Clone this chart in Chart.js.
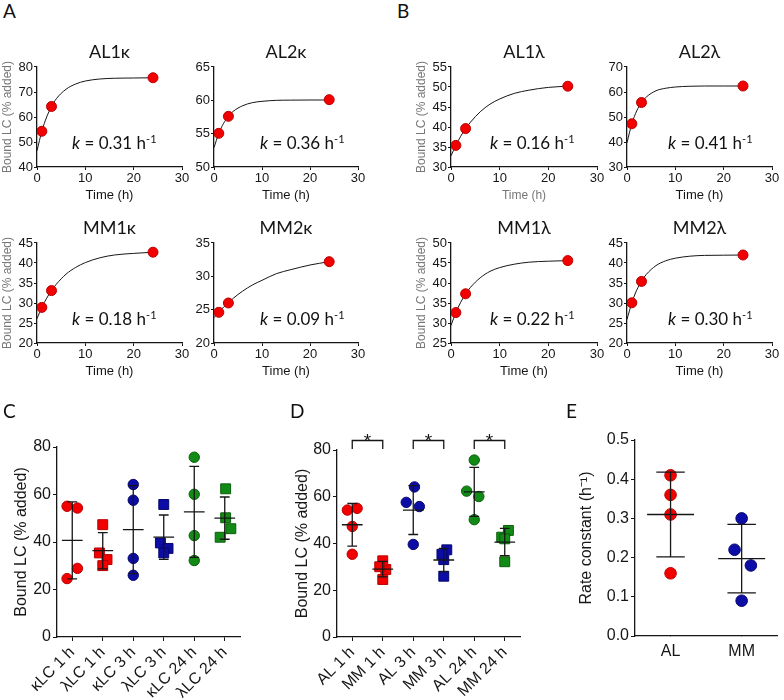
<!DOCTYPE html>
<html>
<head>
<meta charset="utf-8">
<script src="https://cdn.jsdelivr.net/npm/chart.js@4.4.1/dist/chart.umd.min.js"></script>
<style>
  body { margin: 0; background: #fff; }
  #fig { position: relative; width: 784px; height: 700px; overflow: hidden; }
  #fig canvas { position: absolute; }
  .lbl { position: absolute; font-family: Lato, 'Open Sans', sans-serif; color: #111; white-space: nowrap; }
  .letter { font-size: 19px; line-height: 19px; }
  .kval { font-size: 17px; line-height: 20px; }
  .kval sup { font-size: 11px; line-height: 0; vertical-align: 6px; }
</style>
</head>
<body>
<div id="fig"></div>
<script>
// sampling times (h) and fitted-curve read-off times
const sampleTimes = [1, 3, 24];
const fitTimes = [0, 1, 2, 3, 4, 6, 8, 10, 13, 16, 20, 24];

// bound LC (% added) at 1, 3, 24 h
const AL1k = [54.3, 64.2, 75.7];
const AL2k = [55.05, 57.6, 60.1];
const MM1k = [28.9, 33.1, 42.7];
const MM2k = [24.6, 26.0, 32.2];
const AL1l = [35.4, 39.6, 50.2];
const AL2l = [47.3, 55.8, 62.4];
const MM1l = [32.6, 37.3, 45.6];
const MM2l = [30.05, 35.4, 42.0];

// fitted curves at fitTimes
const AL1kFit = [46.5, 54.3, 60.0, 64.2, 67.3, 71.1, 73.2, 74.4, 75.2, 75.5, 75.6, 75.7];
const AL2kFit = [52.9, 55.05, 56.55, 57.6, 58.35, 59.2, 59.65, 59.85, 60.0, 60.03, 60.05, 60.05];
const MM1kFit = [26.1, 28.9, 31.2, 33.1, 34.7, 37.2, 38.9, 40.1, 41.3, 42.0, 42.4, 42.7];
const MM2kFit = [23.8, 24.6, 25.4, 26.0, 26.7, 27.8, 28.7, 29.4, 30.4, 31.0, 31.7, 32.2];
const AL1lFit = [32.8, 35.4, 37.7, 39.6, 41.2, 43.8, 45.7, 47.0, 48.4, 49.2, 49.9, 50.2];
const AL2lFit = [39.7, 47.3, 52.4, 55.8, 58.0, 60.5, 61.5, 62.0, 62.3, 62.4, 62.4, 62.4];
const MM1lFit = [29.4, 32.6, 35.2, 37.25, 38.9, 41.3, 42.9, 43.85, 44.7, 45.2, 45.45, 45.6];
const MM2lFit = [25.9, 30.05, 33.2, 35.45, 37.15, 39.35, 40.55, 41.2, 41.7, 41.9, 41.95, 42.0];

// rate constants (h-1): AL1k, AL2k, AL1l, AL2l / MM1k, MM2k, MM1l, MM2l
const rateAL = [0.31, 0.36, 0.16, 0.41];
const rateMM = [0.18, 0.09, 0.22, 0.30];

const cCats = ['κLC 1 h', 'λLC 1 h', 'κLC 3 h', 'λLC 3 h', 'κLC 24 h', 'λLC 24 h'];
const dCats = ['AL 1 h', 'MM 1 h', 'AL 3 h', 'MM 3 h', 'AL 24 h', 'MM 24 h'];
const eCats = ['AL', 'MM'];

// horizontal spread of overlapping dots (category units)
const cJitter = [[0.17, -0.17, 0.17, -0.17], [-0.11, 0, 0.14, 0], [0, 0, 0, 0], [-0.11, 0, 0.14, 0], [0, 0, 0, 0], [0.03, 0.03, 0.2, -0.15]];
const dJitter = [[-0.16, 0.16, 0, 0], [0.1, 0, 0, -0.1], [0.04, -0.23, 0, 0.2], [0, 0, 0.1, -0.06], [0, 0.15, 0, -0.25], [-0.1, 0, 0.12, 0]];
const eJitter = [[0, 0, 0, 0], [0.13, 0, -0.1, 0]];

const SANS = "'Liberation Sans', Arial, sans-serif";
const INK = '#161616';
const RED = '#f20000', RED_E = '#b80000';
const BLUE = '#0c0ca6', BLUE_E = '#06066e';
const GREEN = '#128a16', GREEN_E = '#0a5e0c';

const fig = document.getElementById('fig');

function addCanvas(left, top, w, h) {
  const c = document.createElement('canvas');
  c.width = w; c.height = h;
  c.style.left = left + 'px'; c.style.top = top + 'px';
  c.style.width = w + 'px'; c.style.height = h + 'px';
  fig.appendChild(c);
  return c;
}

function addLabel(html, cls, left, top) {
  const d = document.createElement('div');
  d.className = 'lbl ' + cls;
  d.innerHTML = html;
  d.style.left = left + 'px'; d.style.top = top + 'px';
  fig.appendChild(d);
}

// ---------- A / B: kinetic panels ----------
const kinPanels = [
  { title: 'AL1κ', pts: AL1k, fit: AL1kFit, k: rateAL[0], y: [40, 80, 10], box: [37, 67, 182, 167], yTitle: true, kx: 35 },
  { title: 'AL2κ', pts: AL2k, fit: AL2kFit, k: rateAL[1], y: [50, 65, 5], box: [214, 67, 358, 167], kx: 46 },
  { title: 'AL1λ', pts: AL1l, fit: AL1lFit, k: rateAL[2], y: [30, 55, 5], box: [451, 67, 597, 167], yTitle: true, kx: 39, greyX: true },
  { title: 'AL2λ', pts: AL2l, fit: AL2lFit, k: rateAL[3], y: [30, 70, 10], box: [627, 67, 772, 167], kx: 41 },
  { title: 'MM1κ', pts: MM1k, fit: MM1kFit, k: rateMM[0], y: [20, 45, 5], box: [37, 243, 182, 343], yTitle: true, kx: 35 },
  { title: 'MM2κ', pts: MM2k, fit: MM2kFit, k: rateMM[1], y: [20, 35, 5], box: [214, 243, 358, 343], kx: 46 },
  { title: 'MM1λ', pts: MM1l, fit: MM1lFit, k: rateMM[2], y: [25, 50, 5], box: [451, 243, 597, 343], yTitle: true, kx: 39 },
  { title: 'MM2λ', pts: MM2l, fit: MM2lFit, k: rateMM[3], y: [20, 45, 5], box: [627, 243, 772, 343], kx: 41 }
];

function kineticPanel(p) {
  const [l, t, r, b] = p.box;
  const ml = p.yTitle ? 40 : 26, mr = 12, mt = 30, mb = 38;
  const cv = addCanvas(l - ml, t - mt, r - l + ml + mr, b - t + mt + mb);
  new Chart(cv, {
    type: 'scatter',
    data: {
      datasets: [
        {
          data: sampleTimes.map((x, i) => ({ x, y: p.pts[i] })),
          pointRadius: 5, backgroundColor: RED, borderColor: RED_E, borderWidth: 1
        },
        {
          data: fitTimes.map((x, i) => ({ x, y: p.fit[i] })),
          showLine: true, borderColor: INK, borderWidth: 1, pointRadius: 0,
          cubicInterpolationMode: 'monotone'
        }
      ]
    },
    options: {
      responsive: false, animation: false, devicePixelRatio: 1,
      layout: { padding: { top: mt - 25.6, right: mr, left: 0, bottom: 0 } },
      plugins: {
        legend: { display: false }, tooltip: { enabled: false },
        title: {
          display: true, text: p.title, fullSize: false, color: INK,
          font: { family: 'Lato', size: 18, weight: 'normal' }, padding: { top: 0, bottom: 4 }
        }
      },
      scales: {
        x: {
          type: 'linear', min: 0, max: 30,
          afterFit: s => { s.height = mb; },
          ticks: { stepSize: 10, color: INK, padding: 1, font: { family: SANS, size: 13 } },
          grid: { drawOnChartArea: false, tickLength: 3, color: INK },
          border: { color: INK, width: 1.3 },
          title: {
            display: true, text: 'Time (h)', color: p.greyX ? '#777' : INK,
            font: { family: SANS, size: p.greyX ? 12 : 13 }, padding: { top: 0, bottom: 2 }
          }
        },
        y: {
          min: p.y[0], max: p.y[1],
          afterFit: s => { s.width = ml; },
          ticks: { stepSize: p.y[2], color: INK, padding: 1, font: { family: SANS, size: 13 } },
          grid: { drawOnChartArea: false, tickLength: 3, color: INK },
          border: { color: INK, width: 1.3 },
          title: {
            display: !!p.yTitle, text: 'Bound LC (% added)', color: '#777',
            font: { family: SANS, size: 12 }, padding: { top: 3, bottom: 0 }
          }
        }
      }
    }
  });
  addLabel('<i>k</i> = ' + p.k.toFixed(2) + ' h<sup>-1</sup>', 'kval', l + p.kx, b - 34);
}

kinPanels.forEach(kineticPanel);

// ---------- C / D / E: dot plots with mean ± SD ----------
function meanSdPlugin(groups, meanHalf, capHalf) {
  return {
    id: 'meanSd',
    afterDatasetsDraw(chart) {
      const { ctx, scales: { x, y } } = chart;
      ctx.save();
      ctx.strokeStyle = INK; ctx.lineWidth = 1.3;
      groups.forEach((vals, gi) => {
        const m = vals.reduce((a, v) => a + v, 0) / vals.length;
        const sd = Math.sqrt(vals.reduce((a, v) => a + (v - m) * (v - m), 0) / (vals.length - 1));
        const cx = x.getPixelForValue(gi);
        const unit = x.getPixelForValue(gi + 1) - cx;
        const yT = y.getPixelForValue(m + sd), yB = y.getPixelForValue(m - sd), yM = y.getPixelForValue(m);
        const hw = meanHalf * unit, cw = capHalf * unit;
        ctx.beginPath();
        ctx.moveTo(cx, yT); ctx.lineTo(cx, yB);
        ctx.moveTo(cx - cw, yT); ctx.lineTo(cx + cw, yT);
        ctx.moveTo(cx - cw, yB); ctx.lineTo(cx + cw, yB);
        ctx.moveTo(cx - hw, yM); ctx.lineTo(cx + hw, yM);
        ctx.stroke();
      });
      ctx.restore();
    }
  };
}

const bracketPlugin = {
  id: 'brackets',
  afterDraw(chart) {
    const { ctx, chartArea, scales: { x } } = chart;
    const yb = chartArea.top - 9.5, yl = chartArea.top - 1;
    ctx.save();
    ctx.strokeStyle = INK; ctx.lineWidth = 1.3; ctx.fillStyle = INK;
    ctx.font = '19px ' + SANS; ctx.textAlign = 'center'; ctx.textBaseline = 'alphabetic';
    [[0, 1], [2, 3], [4, 5]].forEach(([a, c]) => {
      const x1 = x.getPixelForValue(a), x2 = x.getPixelForValue(c);
      ctx.beginPath();
      ctx.moveTo(x1, yl); ctx.lineTo(x1, yb); ctx.lineTo(x2, yb); ctx.lineTo(x2, yl);
      ctx.stroke();
      ctx.fillText('*', (x1 + x2) / 2, yb + 6);
    });
    ctx.restore();
  }
};

function dotPanel(cfg) {
  const [l, t, r, b] = cfg.box;
  const { ml, mr, mt, mb } = cfg;
  const cv = addCanvas(l - ml, t - mt, r - l + ml + mr, b - t + mt + mb);
  const n = cfg.cats.length;
  const datasets = cfg.groups.map((g, gi) => ({
    data: g.vals.map((v, i) => ({ x: gi + cfg.jitter[gi][i], y: v })),
    pointStyle: g.shape, pointRadius: g.shape === 'rect' ? 7 : cfg.radius,
    backgroundColor: g.color[0], borderColor: g.color[1], borderWidth: 1
  }));
  const plugins = [meanSdPlugin(cfg.groups.map(g => g.vals), cfg.meanHalf, cfg.capHalf)];
  if (cfg.brackets) plugins.push(bracketPlugin);
  new Chart(cv, {
    type: 'scatter',
    data: { datasets },
    plugins,
    options: {
      responsive: false, animation: false, devicePixelRatio: 1,
      layout: { padding: { top: mt, right: mr, left: 0, bottom: 0 } },
      plugins: { legend: { display: false }, tooltip: { enabled: false } },
      scales: {
        x: {
          type: 'linear', min: -0.5, max: n - 0.5,
          afterBuildTicks: s => { s.ticks = cfg.cats.map((c, i) => ({ value: i })); },
          afterFit: s => { s.height = mb; },
          ticks: {
            callback: v => cfg.cats[v], color: INK, padding: cfg.xPad,
            minRotation: cfg.rot, maxRotation: cfg.rot, autoSkip: false,
            font: { family: SANS, size: cfg.xFont }
          },
          grid: { drawOnChartArea: false, tickLength: cfg.xTick, color: INK },
          border: { color: INK, width: 1.3 }
        },
        y: {
          min: cfg.y[0], max: cfg.y[1],
          afterFit: s => { s.width = ml; },
          ticks: {
            stepSize: cfg.y[2], color: INK, padding: 2, font: { family: SANS, size: 16 },
            callback: v => cfg.yFmt ? v.toFixed(1) : v
          },
          grid: { drawOnChartArea: false, tickLength: 4, color: INK },
          border: { color: INK, width: 1.3 },
          title: {
            display: true, text: cfg.yTitle, color: INK,
            font: { family: SANS, size: 16 }, padding: { top: cfg.yTitlePad, bottom: 0 }
          }
        }
      }
    }
  });
}

const RED_C = [RED, RED_E], BLUE_C = [BLUE, BLUE_E], GREEN_C = [GREEN, GREEN_E];
const tColors = [RED_C, BLUE_C, GREEN_C];

// C: grouped by light-chain type
const cGroups = [];
[0, 1, 2].forEach(ti => {
  cGroups.push({ vals: [AL1k[ti], AL2k[ti], MM1k[ti], MM2k[ti]], shape: 'circle', color: tColors[ti] });
  cGroups.push({ vals: [AL1l[ti], AL2l[ti], MM1l[ti], MM2l[ti]], shape: 'rect', color: tColors[ti] });
});
dotPanel({
  box: [57, 447, 240, 637], ml: 57, mr: 20, mt: 27, mb: 63,
  cats: cCats, groups: cGroups, jitter: cJitter, y: [0, 80, 20],
  yTitle: 'Bound LC (% added)', yTitlePad: 12, radius: 5.2,
  meanHalf: 0.34, capHalf: 0.16, rot: 45, xFont: 16, xPad: 2, xTick: 4
});

// D: grouped by disease
const dGroups = [];
[0, 1, 2].forEach(ti => {
  dGroups.push({ vals: [AL1k[ti], AL2k[ti], AL1l[ti], AL2l[ti]], shape: 'circle', color: tColors[ti] });
  dGroups.push({ vals: [MM1k[ti], MM2k[ti], MM1l[ti], MM2l[ti]], shape: 'rect', color: tColors[ti] });
});
dotPanel({
  box: [337, 450, 520, 637], ml: 52, mr: 20, mt: 50, mb: 63,
  cats: dCats, groups: dGroups, jitter: dJitter, y: [0, 80, 20],
  yTitle: 'Bound LC (% added)', yTitlePad: 8, radius: 5.2,
  meanHalf: 0.34, capHalf: 0.16, rot: 45, xFont: 16, xPad: 2, xTick: 4, brackets: true
});

// E: rate constants
dotPanel({
  box: [635, 440, 782, 636], ml: 65, mr: 2, mt: 25, mb: 64,
  cats: eCats, groups: [
    { vals: rateAL, shape: 'circle', color: RED_C },
    { vals: rateMM, shape: 'circle', color: BLUE_C }
  ], jitter: eJitter, y: [0, 0.5, 0.1], yFmt: true,
  yTitle: 'Rate constant (h⁻¹)', yTitlePad: 7, radius: 5.8,
  meanHalf: 0.33, capHalf: 0.2, rot: 0, xFont: 16, xPad: 6, xTick: 0
});

// panel letters
addLabel('A', 'letter', 3, 1);
addLabel('B', 'letter', 397, 1);
addLabel('C', 'letter', 3, 401);
addLabel('D', 'letter', 290, 401);
addLabel('E', 'letter', 566, 401);
</script>
</body>
</html>
